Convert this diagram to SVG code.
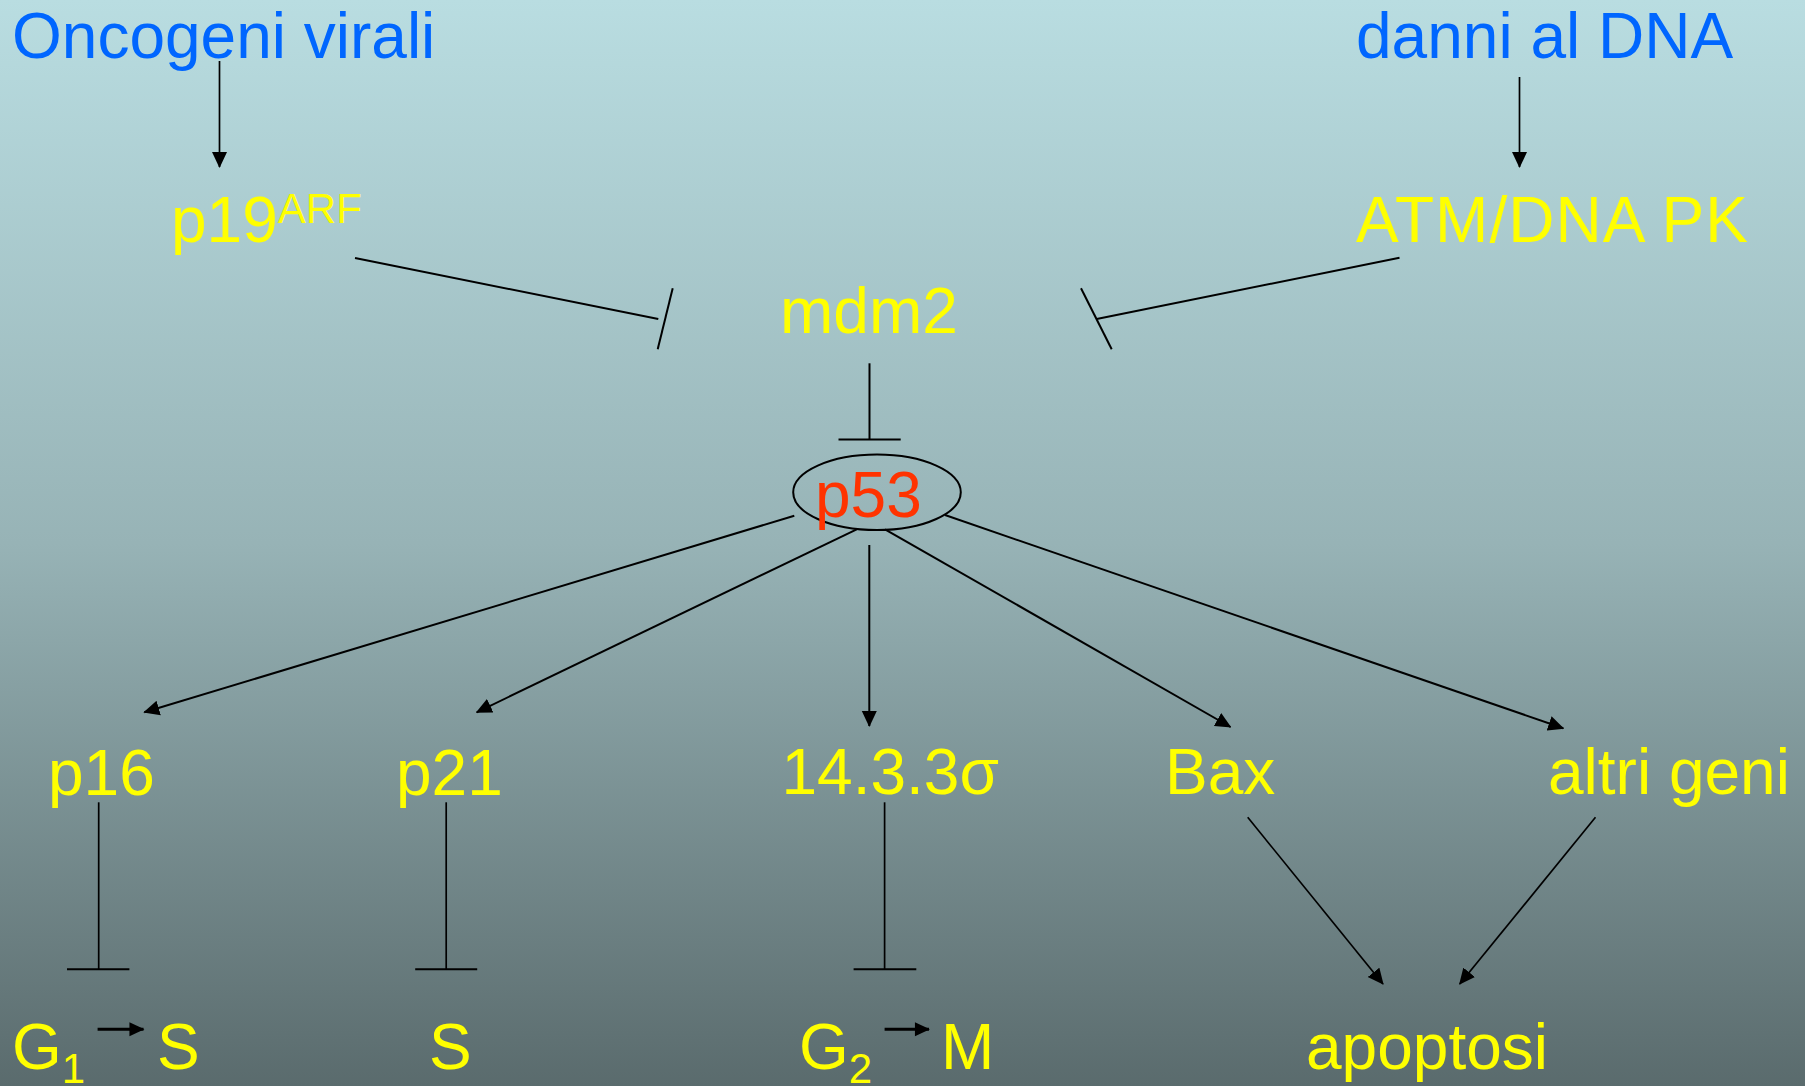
<svg xmlns="http://www.w3.org/2000/svg" width="1805" height="1086" viewBox="0 0 1805 1086">
  <defs>
    <linearGradient id="bg" x1="0" y1="0" x2="0" y2="1">
      <stop offset="0" stop-color="#B9DDE1"/>
      <stop offset="0.5" stop-color="#97B3B6"/>
      <stop offset="1" stop-color="#5A6B6D"/>
    </linearGradient>
    <marker id="head" markerUnits="userSpaceOnUse" viewBox="0 0 16 16" refX="15" refY="8" markerWidth="16" markerHeight="16" orient="auto">
      <path d="M0,0.5 L16,8 L0,15.5 z" fill="#000"/>
    </marker>
    <marker id="headS" markerUnits="userSpaceOnUse" viewBox="0 0 16 16" refX="15" refY="8" markerWidth="16" markerHeight="15" orient="auto">
      <path d="M0,0.5 L16,8 L0,15.5 z" fill="#000"/>
    </marker>
  </defs>
  <style>
    text { font-family: "Liberation Sans", Arial, sans-serif; font-size: 64px; }
    .blue { fill: #0066FF; }
    .yel { fill: #FFFF00; }
    .red { fill: #FF3300; }
    .sup { font-size: 42px; }
    .ln { stroke: #000; stroke-width: 2; fill: none; }
    .thin { stroke: #000; stroke-width: 1.7; fill: none; }
    .arr { marker-end: url(#head); }
  </style>

  <rect x="0" y="0" width="1805" height="1086" fill="url(#bg)"/>

  <!-- connectors -->
  <g id="connectors">
    <!-- activations at the top -->
    <line class="thin arr" x1="219.5" y1="61" x2="219.5" y2="167"/>
    <line class="thin arr" x1="1519.5" y1="77" x2="1519.5" y2="167"/>

    <!-- inhibitions of mdm2 -->
    <line class="ln" x1="355" y1="258" x2="658.3" y2="319"/>
    <line class="ln" x1="672.7" y1="288.3" x2="657.7" y2="349.3"/>
    <line class="ln" x1="1399.5" y1="257.7" x2="1096.7" y2="319"/>
    <line class="ln" x1="1081" y1="288.3" x2="1111.7" y2="349.3"/>

    <!-- mdm2 inhibits p53 -->
    <line class="ln" x1="869.5" y1="363.3" x2="869.5" y2="439.5"/>
    <line class="ln" x1="838.5" y1="439.5" x2="900.7" y2="439.5"/>

    <!-- p53 targets -->
    <line class="ln arr" x1="794.3" y1="515.7" x2="144.3" y2="712.3"/>
    <line class="ln arr" x1="856.7" y1="529.3" x2="476.7" y2="712.3"/>
    <line class="ln arr" x1="869.3" y1="545" x2="869.3" y2="726"/>
    <line class="ln arr" x1="885" y1="529.3" x2="1230.5" y2="727"/>
    <line class="ln arr" x1="945" y1="515" x2="1563.3" y2="728.3"/>

    <!-- cell-cycle blocks -->
    <line class="thin" x1="98.7" y1="802.3" x2="98.7" y2="969.3"/>
    <line class="ln" x1="67" y1="969.3" x2="129.4" y2="969.3"/>
    <line class="thin" x1="446.2" y1="802.3" x2="446.2" y2="969.3"/>
    <line class="ln" x1="415.2" y1="969.3" x2="477.2" y2="969.3"/>
    <line class="thin" x1="884.6" y1="802.3" x2="884.6" y2="969.3"/>
    <line class="ln" x1="853.6" y1="969.3" x2="916.3" y2="969.3"/>

    <!-- apoptosis -->
    <line class="thin arr" x1="1247.7" y1="817.3" x2="1383" y2="984"/>
    <line class="thin arr" x1="1595.5" y1="817.3" x2="1459.7" y2="984"/>

    <!-- phase transitions -->
    <line stroke="#000" stroke-width="3" marker-end="url(#headS)" x1="97.6" y1="1029.3" x2="143.5" y2="1029.3"/>
    <line stroke="#000" stroke-width="3" marker-end="url(#headS)" x1="884.6" y1="1029.3" x2="929" y2="1029.3"/>
  </g>

  <!-- nodes -->
  <g id="oncogeni"><text class="blue" x="12" y="58">Oncogeni virali</text></g>
  <g id="danni"><text class="blue" x="1356" y="58">danni al DNA</text></g>
  <g id="p19arf"><text class="yel" x="171" y="242">p19<tspan class="sup" dy="-19">ARF</tspan></text></g>
  <g id="atm"><text class="yel" x="1356" y="242" textLength="392" lengthAdjust="spacing">ATM/DNA PK</text></g>
  <g id="mdm2"><text class="yel" x="780" y="333">mdm2</text></g>
  <g id="p53">
    <ellipse cx="877" cy="492.3" rx="83.8" ry="37.8" fill="none" stroke="#000" stroke-width="2"/>
    <text class="red" x="815" y="517">p53</text>
  </g>
  <g id="p16"><text class="yel" x="48" y="795">p16</text></g>
  <g id="p21"><text class="yel" x="396" y="795">p21</text></g>
  <g id="sigma"><text class="yel" x="781.5" y="794">14.3.3σ</text></g>
  <g id="bax"><text class="yel" x="1165" y="794">Bax</text></g>
  <g id="altri"><text class="yel" x="1548" y="794">altri geni</text></g>
  <g id="g1s">
    <text class="yel" x="12" y="1069">G<tspan class="sup" dy="14">1</tspan></text>
    <text class="yel" x="157" y="1069">S</text>
  </g>
  <g id="s"><text class="yel" x="429" y="1069">S</text></g>
  <g id="g2m">
    <text class="yel" x="799" y="1069">G<tspan class="sup" dy="14">2</tspan></text>
    <text class="yel" x="941" y="1069">M</text>
  </g>
  <g id="apoptosi"><text class="yel" x="1306" y="1069">apoptosi</text></g>
</svg>
